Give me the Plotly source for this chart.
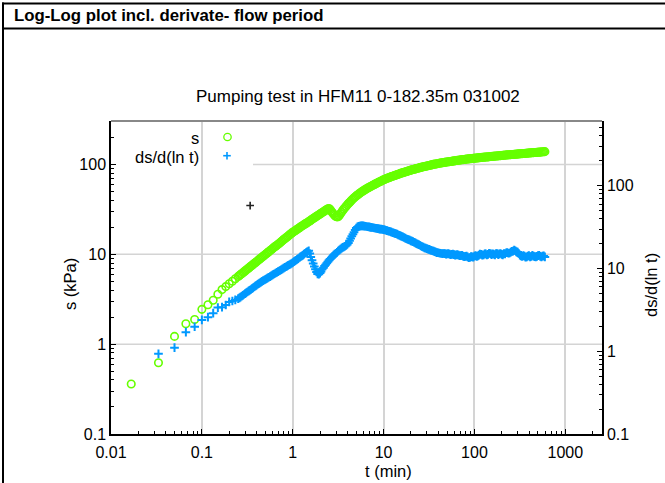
import plotly.graph_objects as go

# Elapsed time since pump start (min)
t_min = [
    0.0167, 0.0333, 0.05, 0.0667, 0.0833, 0.1, 0.1167, 0.1333, 0.15, 0.1667,
    0.1833, 0.2, 0.2167, 0.2333,
    0.251, 0.259, 0.266, 0.274, 0.282, 0.290, 0.299, 0.307, 0.316, 0.326,
    0.335, 0.345, 0.355, 0.365, 0.376, 0.387, 0.398, 0.410, 0.422, 0.434,
    0.447, 0.460, 0.473, 0.487, 0.501, 0.516, 0.531, 0.546, 0.562, 0.579,
    0.596, 0.613, 0.631, 0.649, 0.668, 0.688, 0.708, 0.729, 0.750, 0.772,
    0.794, 0.818, 0.841, 0.866, 0.891, 0.917, 0.944, 0.972, 1.00, 1.03,
    1.06, 1.09, 1.12, 1.15, 1.19, 1.22, 1.26, 1.30, 1.33, 1.37,
    1.41, 1.45, 1.50, 1.54, 1.58, 1.63, 1.68, 1.73, 1.78, 1.83,
    1.88, 1.94, 2.00, 2.05, 2.11, 2.18, 2.24, 2.30, 2.37, 2.44,
    2.51, 2.58, 2.66, 2.74, 2.82, 2.90, 2.99, 3.07, 3.16, 3.25,
    3.35, 3.45, 3.55, 3.65, 3.76, 3.87, 3.98, 4.10, 4.22, 4.34,
    4.47, 4.60, 4.73, 4.87, 5.01, 5.16, 5.31, 5.47, 5.62, 5.79,
    5.96, 6.13, 6.31, 6.49, 6.68, 6.88, 7.08, 7.29, 7.50, 7.72,
    7.94, 8.18, 8.41, 8.66, 8.91, 9.17, 9.44, 9.72, 10.0, 10.3,
    10.6, 10.9, 11.2, 11.5, 11.9, 12.2, 12.6, 13.0, 13.3, 13.7,
    14.1, 14.5, 15.0, 15.4, 15.8, 16.3, 16.8, 17.3, 17.8, 18.3,
    18.8, 19.4, 20.0, 20.5, 21.1, 21.8, 22.4, 23.0, 23.7, 24.4,
    25.1, 25.8, 26.6, 27.4, 28.2, 29.0, 29.9, 30.7, 31.6, 32.5,
    33.5, 34.5, 35.5, 36.5, 37.6, 38.7, 39.8, 41.0, 42.2, 43.4,
    44.7, 46.0, 47.3, 48.7, 50.1, 51.6, 53.1, 54.6, 56.2, 57.9,
    59.6, 61.3, 63.1, 64.9, 66.8, 68.8, 70.8, 72.9, 75.0, 77.2,
    79.4, 81.8, 84.1, 86.6, 89.1, 91.7, 94.4, 97.2, 100, 103,
    106, 109, 112, 115, 119, 122, 126, 130, 133, 137,
    141, 145, 150, 154, 158, 163, 168, 173, 178, 183,
    188, 194, 200, 205, 211, 217, 224, 230, 237, 244,
    251, 258, 266, 274, 282, 290, 299, 307, 316, 325,
    335, 345, 355, 365, 376, 387, 398, 410, 422, 434,
    447, 460, 473, 487, 501, 516, 531, 546, 562, 579,
    596,
]

# Drawdown s (kPa)
s_kpa = [
    0.36, 0.62, 1.22, 1.69, 1.88, 2.44, 2.75, 3.08, 3.59, 4.05,
    4.37, 4.71, 5.01, 5.35,
    5.66, 5.80, 5.94, 6.08, 6.22, 6.37, 6.53, 6.68, 6.84, 7.01,
    7.18, 7.35, 7.52, 7.70, 7.89, 8.07, 8.26, 8.46, 8.67, 8.87,
    9.08, 9.30, 9.53, 9.75, 9.98, 10.2, 10.5, 10.7, 11.0, 11.2,
    11.5, 11.8, 12.1, 12.3, 12.6, 12.9, 13.2, 13.5, 13.9, 14.2,
    14.6, 14.9, 15.3, 15.6, 16.0, 16.4, 16.8, 17.2, 17.6, 17.9,
    18.3, 18.6, 19.0, 19.4, 19.8, 20.2, 20.6, 21.0, 21.4, 21.8,
    22.2, 22.6, 23.1, 23.5, 24.0, 24.5, 25.0, 25.5, 26.0, 26.5,
    27.0, 27.5, 28.1, 28.6, 29.2, 29.8, 30.4, 31.0, 31.6, 32.2,
    32.4, 31.5, 30.1, 29.0, 28.0, 27.1, 26.4, 26.1, 26.2, 27.1,
    28.3, 29.5, 30.8, 32.0, 33.1, 34.3, 35.5, 36.7, 37.8, 39.0,
    40.2, 41.4, 42.5, 43.6, 44.7, 45.8, 46.8, 47.9, 48.9, 49.9,
    50.8, 51.8, 52.7, 53.7, 54.6, 55.5, 56.4, 57.3, 58.2, 59.1,
    60.0, 60.9, 61.8, 62.8, 63.7, 64.7, 65.6, 66.6, 67.5, 68.4,
    69.2, 70.0, 70.8, 71.6, 72.4, 73.2, 74.0, 74.8, 75.5, 76.3,
    77.1, 77.9, 78.7, 79.6, 80.4, 81.1, 81.8, 82.6, 83.4, 84.2,
    84.9, 85.7, 86.5, 87.2, 87.9, 88.6, 89.3, 90.0, 90.8, 91.5,
    92.3, 92.9, 93.5, 94.2, 94.8, 95.5, 96.2, 96.9, 97.5, 98.2,
    98.9, 99.6, 100.2, 100.8, 101.4, 102.0, 102.6, 103.2, 103.7, 104.2,
    104.7, 105.2, 105.7, 106.2, 106.7, 107.2, 107.6, 108.1, 108.6, 109.1,
    109.6, 110.2, 110.7, 111.0, 111.4, 112.0, 112.5, 112.8, 113.2, 113.8,
    114.3, 114.7, 115.1, 115.5, 115.9, 116.3, 116.7, 117.1, 117.5, 117.8,
    118.0, 118.5, 118.9, 119.3, 119.7, 120.0, 120.2, 120.7, 121.1, 121.3,
    121.6, 122.1, 122.5, 122.8, 123.0, 123.5, 123.9, 124.2, 124.5, 124.9,
    125.3, 125.6, 125.9, 126.4, 126.8, 127.1, 127.4, 127.8, 128.2, 128.5,
    128.8, 129.1, 129.4, 129.7, 130.0, 130.3, 130.6, 131.1, 131.5, 131.8,
    132.1, 132.4, 132.7, 133.1, 133.4, 133.7, 134.0, 134.5, 134.9, 135.2,
    135.5, 135.8, 136.1, 136.5, 136.8, 137.1, 137.4, 137.9, 138.4, 138.7,
    139.0,
]

# Pressure derivative ds/d(ln t), from the second time step on
ds_dlnt = [
    0.93, 1.105, 1.70, 1.98, 2.39, 2.58, 2.89, 3.37, 3.41,
    3.62, 3.95, 4.05, 4.17,
    4.32, 4.42, 4.52, 4.62, 4.73, 4.85, 4.97, 5.08, 5.20, 5.32,
    5.44, 5.57, 5.71, 5.84, 5.98, 6.12, 6.27, 6.42, 6.58, 6.71,
    6.85, 6.99, 7.13, 7.27, 7.41, 7.55, 7.69, 7.84, 8.00, 8.16,
    8.32, 8.48, 8.65, 8.82, 8.99, 9.16, 9.33, 9.51, 9.70, 9.90,
    10.1, 10.3, 10.5, 10.7, 10.9, 11.1, 11.3, 11.5, 11.8, 12.1,
    12.4, 12.6, 12.9, 13.2, 13.6, 13.9, 14.2, 14.5, 14.9, 15.3,
    15.7, 16.0, 16.4, 15.2, 13.8, 12.6, 11.5, 10.6, 9.77, 9.10,
    8.61, 8.55, 8.81, 9.20, 9.77, 10.2, 10.7, 11.1, 11.6, 12.1,
    12.6, 13.0, 13.5, 14.0, 14.5, 14.9, 15.3, 15.7, 16.2, 16.7,
    17.2, 17.6, 18.0, 18.3, 18.6, 19.0, 19.5, 20.4, 21.6, 23.0,
    24.5, 26.0, 27.5, 29.2, 30.9, 31.8, 32.4, 32.6, 32.7, 32.8,
    32.7, 32.6, 32.4, 32.2, 32.0, 31.8, 31.6, 31.5, 31.3, 31.1,
    30.9, 30.7, 30.5, 30.4, 30.2, 30.0, 29.9, 29.7, 29.5, 29.3,
    29.0, 28.7, 28.4, 28.2, 27.9, 27.5, 27.2, 26.9, 26.6, 26.3,
    26.0, 25.5, 25.1, 24.8, 24.5, 24.1, 23.7, 23.3, 22.9, 22.6,
    22.4, 22.0, 21.6, 21.4, 21.1, 20.7, 20.4, 20.0, 19.7, 19.4,
    19.1, 18.7, 18.4, 18.1, 17.8, 17.6, 17.4, 17.2, 17.0, 16.8,
    16.6, 16.4, 16.2, 16.0, 15.8, 15.6, 15.5, 15.4, 15.3, 15.2,
    15.1, 15.2, 15.1, 14.9, 15.0, 15.1, 14.9, 14.7, 14.8, 14.9,
    14.7, 14.5, 14.6, 14.7, 14.5, 14.3, 14.3, 14.4, 14.1, 13.9,
    14.0, 14.1, 13.8, 13.5, 13.6, 13.9, 13.8, 13.7, 14.1, 14.3,
    14.0, 14.2, 14.5, 14.9, 14.8, 14.5, 14.6, 15.0, 15.0, 14.6,
    14.8, 15.3, 15.1, 14.7, 15.0, 14.9, 14.6, 15.2, 15.1, 14.7,
    15.0, 15.2, 14.8, 14.6, 15.1, 15.0, 15.5, 15.6, 15.3, 15.4,
    15.8, 16.1, 16.2, 16.7, 16.4, 16.0, 15.8, 15.2, 14.5, 14.2,
    14.0, 14.3, 14.1, 13.7, 13.8, 14.1, 14.3, 13.8, 14.0, 14.4,
    14.1, 13.9, 13.8, 14.0, 14.3, 14.4, 14.0, 13.8, 14.1, 14.2,
    13.8,
]
t_deriv = t_min[1:]

# Single stray point plotted on the left axis
stray_t = [0.34]
stray_s = [34.9]

x_tickvals = [0.01, 0.1, 1, 10, 100, 1000]
x_ticktext = ["0.01", "0.1", "1", "10", "100", "1000"]
y_tickvals = [0.1, 1, 10, 100]
y_ticktext = ["0.1", "1", "10", "100"]
grid_levels = [1, 10, 100]

FONT = "Liberation Sans, Arial, Helvetica, sans-serif"
GREEN = "#66ff00"
BLUE = "#0099ff"
GRID = "#d4d4d4"
TXT = 16.5

W, H = 665, 483
L, R, T, B = 111, 602, 121, 434  # plot area in pixels


def px(x):
    return (x - L) / (R - L)


def py(y):
    return (B - y) / (B - T)


fig = go.Figure()

fig.add_trace(go.Scatter(
    x=t_min, y=s_kpa, mode="markers", name="s",
    marker=dict(symbol="circle-open", size=7.5, color=GREEN,
                line=dict(color=GREEN, width=1.6)),
    showlegend=False,
))
fig.add_trace(go.Scatter(
    x=t_deriv, y=ds_dlnt, mode="markers", name="ds/d(ln t)", yaxis="y2",
    marker=dict(symbol="cross-thin-open", size=6.2, color=BLUE,
                line=dict(color=BLUE, width=2)),
    showlegend=False,
))
fig.add_trace(go.Scatter(
    x=stray_t, y=stray_s, mode="markers",
    marker=dict(symbol="cross-thin-open", size=5.5, color="#222222",
                line=dict(color="#222222", width=1.6)),
    showlegend=False,
))

axis_common = dict(
    type="log", showline=True, linecolor="black", linewidth=1.5,
    ticks="inside", ticklen=5, tickwidth=1, tickcolor="black",
    tickfont=dict(family=FONT, size=16, color="black"),
    zeroline=False, mirror=False,
    minor=dict(ticks="inside", ticklen=3, tickwidth=1, tickcolor="black",
               dtick="D1", showgrid=False),
)

fig.update_layout(
    width=W, height=H, autosize=False,
    margin=dict(l=L, r=W - R, t=T, b=H - B, pad=0),
    paper_bgcolor="white", plot_bgcolor="white",
    font=dict(family=FONT, size=TXT, color="black"),
    showlegend=False,
    xaxis=dict(axis_common, range=[-2, 3.404], tickvals=x_tickvals,
               ticktext=x_ticktext, showgrid=True, gridcolor=GRID,
               gridwidth=1.5, ticklabelstandoff=3),
    yaxis=dict(axis_common, range=[-1, 2.484], tickvals=y_tickvals,
               ticktext=y_ticktext, showgrid=False),
    yaxis2=dict(axis_common, range=[-1, 2.783], tickvals=y_tickvals,
                ticktext=y_ticktext, showgrid=False, overlaying="y",
                side="right"),
)

shapes = []
# horizontal grid lines of the left axis (the top one starts right of the key)
for g in grid_levels:
    x0 = px(253) if g == 100 else 0
    shapes.append(dict(type="line", xref="x domain", yref="y", x0=x0, x1=1,
                       y0=g, y1=g, layer="below",
                       line=dict(color=GRID, width=1.5)))
# grey top border of the plot
shapes.append(dict(type="line", xref="paper", yref="paper", x0=0, x1=1,
                   y0=1, y1=1, line=dict(color="#888888", width=2)))
# page frame around the header
shapes.append(dict(type="line", xref="paper", yref="paper", x0=px(2),
                   x1=px(W + 5), y0=py(3.5), y1=py(3.5),
                   line=dict(color="black", width=2)))
shapes.append(dict(type="line", xref="paper", yref="paper", x0=px(2),
                   x1=px(W + 5), y0=py(28.5), y1=py(28.5),
                   line=dict(color="black", width=2)))
shapes.append(dict(type="line", xref="paper", yref="paper", x0=px(3),
                   x1=px(3), y0=py(2.5), y1=py(H + 5),
                   line=dict(color="black", width=2)))
# key symbols
shapes.append(dict(type="circle", xref="paper", yref="paper",
                   xsizemode="pixel", ysizemode="pixel",
                   xanchor=px(227.5), yanchor=py(137),
                   x0=-3.7, x1=3.7, y0=-3.7, y1=3.7,
                   line=dict(color=GREEN, width=1.3)))
shapes.append(dict(type="line", xref="paper", yref="paper",
                   xsizemode="pixel", ysizemode="pixel",
                   xanchor=px(227), yanchor=py(155.7),
                   x0=-3.8, x1=3.8, y0=0, y1=0,
                   line=dict(color=BLUE, width=1.6)))
shapes.append(dict(type="line", xref="paper", yref="paper",
                   xsizemode="pixel", ysizemode="pixel",
                   xanchor=px(227), yanchor=py(155.7),
                   x0=0, x1=0, y0=-3.8, y1=3.8,
                   line=dict(color=BLUE, width=1.6)))
fig.update_layout(shapes=shapes)

annotations = [
    dict(text="<b>Log-Log plot incl. derivate- flow period</b>",
         x=px(12), y=py(15), xanchor="left", yanchor="middle",
         font=dict(family=FONT, size=16.8, color="black")),
    dict(text="Pumping test in HFM11 0-182.35m 031002",
         x=px(358), y=py(97), xanchor="center", yanchor="middle",
         font=dict(family=FONT, size=17, color="black")),
    dict(text="s (kPa)", x=px(70), y=py(284), textangle=-90,
         xanchor="center", yanchor="middle",
         font=dict(family=FONT, size=TXT, color="black")),
    dict(text="ds/d(ln t)", x=px(651), y=py(285), textangle=-90,
         xanchor="center", yanchor="middle",
         font=dict(family=FONT, size=TXT, color="black")),
    dict(text="t (min)", x=px(388), y=py(471),
         xanchor="center", yanchor="middle",
         font=dict(family=FONT, size=TXT, color="black")),
    dict(text="s", x=px(201), y=py(138), xanchor="right", yanchor="middle",
         font=dict(family=FONT, size=TXT, color="black")),
    dict(text="ds/d(ln t)", x=px(201), y=py(156.5), xanchor="right",
         yanchor="middle", font=dict(family=FONT, size=TXT, color="black")),
]
for a in annotations:
    a.update(xref="paper", yref="paper", showarrow=False)
fig.update_layout(annotations=annotations)

fig.write_html("out.html")
